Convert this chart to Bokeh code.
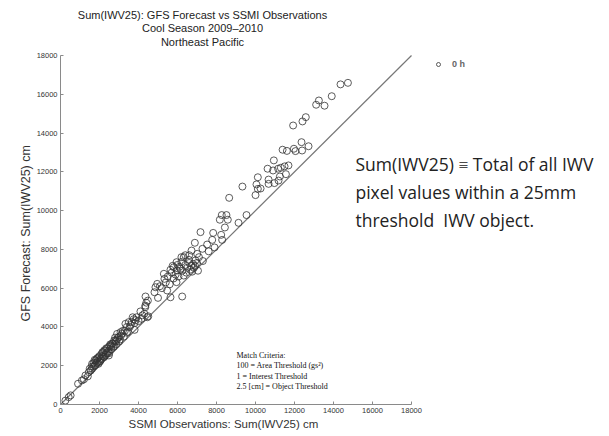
from bokeh.plotting import figure
from bokeh.models import Label, Range1d, Legend, LegendItem, FixedTicker, Title
from bokeh.embed import file_html
from bokeh.resources import INLINE

# SSMI observations (x) and GFS forecast (y), Sum(IWV25) cm, 0h
obs = [250, 420, 520, 900, 1100, 1200, 1280, 1400, 1450, 1550, 1620, 1620, 1700, 1750, 1800,
       1850, 1900, 1960, 2000, 2050, 2100, 2150, 2200, 2250, 2300, 2350, 2400, 2480, 2500, 2560,
       2600, 2650, 2700, 2750, 2820, 2850, 2900, 2950, 3000, 3080, 3100, 3200, 3250, 3330, 3400,
       3450, 3500, 3600, 3700, 3800, 3850, 4150, 4300, 4350, 4350, 4360, 4400, 4480, 4500, 4820,
       4870, 4960, 5000, 5100, 5300, 5330, 5470, 5640, 5640, 5810, 5950, 5950, 5980, 6100, 6240,
       6320, 6320, 6580, 6720, 6840, 6890, 6920, 7010, 7180, 7280, 7520, 7780, 7830, 8170, 8240,
       8270, 8290, 8430, 8510, 8580, 8650, 9130, 9330, 9540, 10000, 10050, 10120, 10120, 10260, 10620,
       10670, 10670, 10900, 10940, 10970, 11160, 11180, 11250, 11300, 11390, 11490, 11560, 11610, 11690, 11930,
       11970, 12050, 12360, 12390, 12410, 12580, 12720, 13110, 13250, 13540, 13910, 14360, 14740,
       5700, 5750, 5900, 6000, 6050, 6150, 6200, 6250, 6400, 6450, 6500, 6600, 6650, 6700, 6750,
       6800, 6900, 7000, 7050, 6200, 6400, 6600, 5800, 5500, 5400, 5200, 5600, 7100, 7300, 7600, 7900,
       1500, 1600, 1700, 1750, 1800, 1850, 1900, 1950, 2000, 2050, 2100, 2150, 2200, 2250, 2300,
       2350, 2400, 2450, 2500, 2550, 2600, 2700, 2750, 2800, 2850, 2900, 3000, 3050, 3150, 3300,
       3400, 3550, 3650, 3750, 3900, 4000, 4100, 4200, 3800, 4450]
fcst = [200, 380, 470, 1070, 1240, 1300, 1500, 1450, 1670, 1750, 1840, 2100, 1950, 2000, 2270,
        2150, 2400, 2440, 2200, 2350, 2600, 2500, 2700, 2450, 2780, 2900, 2650, 2530, 3000, 3040,
        2850, 3150, 2950, 3300, 3300, 3100, 3640, 3450, 3250, 3730, 3550, 3800, 3500, 4160, 4000,
        3750, 4250, 4100, 4500, 4200, 4350, 4420, 4680, 5020, 5100, 5570, 5250, 5360, 4550, 5790,
        6050, 6220, 5500, 6100, 6740, 6480, 5880, 5530, 6950, 7080, 7340, 6310, 6910, 7100, 5570,
        7600, 6650, 7460, 7940, 7050, 8340, 7430, 7770, 8890, 8030, 8250, 8490, 8850, 9530, 8750,
        9770, 8490, 9130, 9770, 9530, 10660, 9370, 11240, 9770, 10800, 11350, 11120, 11720, 11140, 12160,
        11600, 11380, 12070, 12590, 11420, 12160, 11550, 11760, 12210, 13140, 12280, 11880, 13080, 12330, 14390,
        13190, 13070, 13530, 13100, 14600, 14820, 13320, 15460, 15680, 15410, 15900, 16510, 16590,
        6800, 7150, 6700, 7200, 6600, 7000, 7350, 6900, 7200, 6800, 7050, 7300, 6950, 7150, 6850,
        7250, 7150, 7300, 6900, 7600, 7700, 7700, 6500, 6600, 6300, 6000, 6200, 7600, 7400, 7900, 8100,
        1850, 1950, 2150, 2300, 2050, 2350, 2200, 2100, 2500, 2250, 2350, 2700, 2450, 2800, 2550,
        2650, 2900, 2750, 2650, 3100, 3000, 3150, 3000, 3450, 3250, 3350, 3500, 3350, 3650, 3800,
        3700, 4000, 4250, 4400, 4500, 4300, 4800, 4600, 3850, 4500]

ticks = [0, 2000, 4000, 6000, 8000, 10000, 12000, 14000, 16000, 18000]

title_lines = ["Sum(IWV25): GFS Forecast vs SSMI Observations",
               "Cool Season 2009\u20132010",
               "Northeast Pacific"]
x_label = "SSMI Observations: Sum(IWV25) cm"
y_label = "GFS Forecast: Sum(IWV25) cm"
criteria_lines = ["Match Criteria:",
                  "100 = Area Threshold (gs\u00b2)",
                  "1 = Interest Threshold",
                  "2.5 [cm] = Object Threshold"]
note_lines = ["Sum(IWV25) \u2261 Total of all IWV",
              "pixel values within a 25mm",
              "threshold \u00a0IWV object."]

W, H = 609, 436
L, B = 60, 32          # frame left / bottom border
AX_RIGHT_PX, AX_TOP_PX = 411, 55
vmax = ticks[-1]
sx = vmax / (AX_RIGHT_PX - L)
sy = vmax / (H - B - AX_TOP_PX)

p = figure(width=W, height=H, output_backend="svg", toolbar_location=None,
           x_range=Range1d(0, (W - L) * sx), y_range=Range1d(0, (H - B) * sy),
           min_border_left=L, min_border_right=0, min_border_top=0, min_border_bottom=B)
p.outline_line_color = None
p.grid.visible = False
p.background_fill_color = "white"
p.border_fill_color = "white"

for ax in (p.xaxis, p.yaxis):
    ax.ticker = FixedTicker(ticks=ticks)
    ax.bounds = (ticks[0], ticks[-1])
    ax.axis_line_color = "#8a8a8a"
    ax.major_tick_line_color = "#8a8a8a"
    ax.major_tick_in = 3
    ax.major_tick_out = 0
    ax.minor_tick_line_color = None
    ax.major_label_text_font = "Liberation Sans"
    ax.major_label_text_font_size = "7.5px"
    ax.major_label_text_color = "#333333"
    ax.major_label_standoff = 3

# 1:1 reference line
p.line(x=[ticks[0], ticks[-1]], y=[ticks[0], ticks[-1]], line_color="#777777", line_width=1.2)

r = p.scatter(obs, fcst, marker="circle", size=7, fill_color=None,
              line_color="#333333", line_alpha=0.8, line_width=1)

legend = Legend(items=[LegendItem(label="0 h", renderers=[r])], location=(370, 333),
                border_line_alpha=0, background_fill_alpha=0,
                label_text_font="Liberation Sans", label_text_font_size="9px",
                label_text_font_style="bold", label_text_color="#666666",
                glyph_width=12, glyph_height=10, padding=2, spacing=0, label_standoff=8)
p.add_layout(legend)

def px2x(px):
    return (px - L) * sx

def py2y(py):
    return (H - B - py) * sy

for i, t in enumerate(title_lines):
    p.add_layout(Label(x=px2x(202), y=py2y(14 + 13.5 * i), text=t, text_align="center",
                       text_baseline="middle", text_font="Liberation Sans",
                       text_font_size="11px", text_color="#222222"))

p.add_layout(Title(text=x_label, align="left", offset=68, standoff=0,
                   text_font="Liberation Sans", text_font_size="11.5px",
                   text_font_style="normal", text_color="#333333"), "below")
p.add_layout(Title(text=y_label, align="left", offset=83, standoff=2,
                   text_font="Liberation Sans", text_font_size="12.5px",
                   text_font_style="normal", text_color="#333333"), "left")

for i, t in enumerate(criteria_lines):
    p.add_layout(Label(x=px2x(236), y=py2y(355 + 10.3 * i), text=t, text_align="left",
                       text_baseline="middle", text_font="Liberation Serif",
                       text_font_size="8px", text_color="#111111"))

for i, t in enumerate(note_lines):
    p.add_layout(Label(x=px2x(355), y=py2y(163 + 28 * i), text=t, text_align="left",
                       text_baseline="middle", text_font="Open Sans",
                       text_font_size="17.5px", text_color="#222222"))

open("out.html", "w").write(file_html(p, INLINE))
